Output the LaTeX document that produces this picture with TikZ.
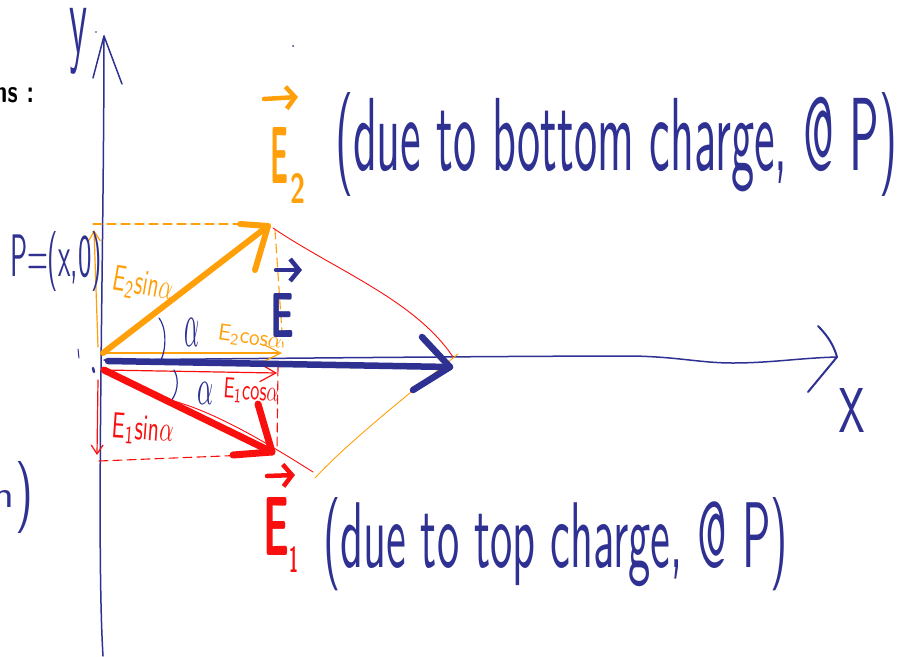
\documentclass[tikz,border=0pt]{standalone}
\usepackage{graphicx}
\usetikzlibrary{arrows.meta}
\definecolor{hwblue}{RGB}{46,49,146}
\definecolor{hworange}{RGB}{255,160,10}
\definecolor{hwred}{RGB}{250,15,15}
\newcommand{\hwtxt}[3]{\resizebox{#1}{#2}{#3}}
\newcommand{\hwtot}[3]{\resizebox*{#1}{#2}{#3}}
\begin{document}
\begin{tikzpicture}[x=1pt,y=-1pt,line cap=round,line join=round,
  lbl/.style={inner sep=0pt,outer sep=0pt},
  axis/.style={hwblue,line width=1.5pt},
  thickvec/.style={line width=6pt},
  thinvec/.style={line width=1.2pt},
  compline/.style={line width=1.1pt,dash pattern=on 9pt off 5pt},
  guide/.style={line width=0.9pt}]
\useasboundingbox (0,0) rectangle (907,656);
% key points
\coordinate (yb) at (103,656);
\coordinate (yt) at (104,36);
\coordinate (ya) at (93,78);
\coordinate (yc) at (122,84);
\coordinate (O) at (104,360);
\coordinate (xe) at (837,357);
\coordinate (xa) at (818,326);
\coordinate (xc) at (808,392);
\coordinate (E2s) at (103,353);
\coordinate (E2t) at (268,226);
\coordinate (E2a) at (240,224);
\coordinate (E2c) at (255,270);
\coordinate (Es) at (108,361);
\coordinate (Et) at (450,367);
\coordinate (Ea) at (422,337);
\coordinate (Ec) at (413,390);
\coordinate (E1s) at (104,370);
\coordinate (E1t) at (272,452);
\coordinate (E1a) at (233,455);
\coordinate (E1c) at (258,404);
% axes
\draw[axis] (yb) .. controls (96,540) and (104,250) .. (yt);
\draw[axis] (ya) -- (yt) -- (yc);
\draw[axis] (O) .. controls (400,357) and (560,356) .. (633,356)
   .. controls (680,357) and (700,363) .. (733,363) .. controls (770,363) and (800,358) .. (xe);
\draw[axis,line width=2pt] (xa) .. controls (828,336) and (834,346) .. (xe) -- (xc);
\node[lbl,hwblue] (ylab) at (79,41) {\hwtot{18pt}{66pt}{\sffamily y}};
\node[lbl,hwblue] (xlab) at (852,410) {\hwtot{25pt}{44pt}{\sffamily x}};
% small marks
\fill[hwblue] (293,46) circle (1pt);
\fill[hwblue] (96,32) circle (0.8pt);
\draw[hwblue,line width=1pt] (78,349) -- (79,358);
\draw[hwblue,line width=2.5pt] (93,368) -- (94,372);
% construction lines (orange)
\coordinate (o1) at (93,224);
\coordinate (o2) at (267,224);
\coordinate (o3) at (275,230);
\coordinate (o4) at (283,347);
\draw[hworange,compline] (o1) -- (o2);
\draw[hworange,compline] (o3) -- (o4);
\coordinate (ov1) at (98,347);
\coordinate (ov2) at (94,230);
\draw[hworange,thinvec,-{Straight Barb[length=10pt,width=12pt]}] (ov1) -- (ov2);
\coordinate (oc2) at (282,353);
\draw[hworange,thinvec,-{Straight Barb[length=16pt,width=16pt]}] (E2s) -- (oc2);
% construction lines (red)
\coordinate (r1) at (278,367);
\coordinate (r2) at (277,450);
\coordinate (r3) at (99,461);
\coordinate (r4) at (273,454);
\draw[hwred,compline] (r1) -- (r2);
\draw[hwred,compline] (r3) -- (r4);
\coordinate (rv1) at (98,380);
\coordinate (rv2) at (97,455);
\draw[hwred,thinvec,-{Straight Barb[length=9pt,width=12pt]}] (rv1) -- (rv2);
\coordinate (rc2) at (277,373);
\draw[hwred,thinvec,-{Straight Barb[length=16pt,width=18pt]}] (E1s) -- (rc2);
% parallelogram guides
\coordinate (g1) at (273,228);
\coordinate (g2) at (453,357);
\draw[hwred,guide] (g1) .. controls (335,270) and (415,300) .. (g2);
\coordinate (g3) at (458,354);
\coordinate (g4) at (315,478);
\draw[hworange,guide] (g3) .. controls (420,385) and (350,440) .. (g4);
\coordinate (g5) at (157,397);
\coordinate (g6) at (313,472);
\draw[hwred,guide] (g5) .. controls (200,405) and (250,432) .. (g6);
% angle marks
\coordinate (a1) at (159,318);
\coordinate (a2) at (161,360);
\draw[hwblue,line width=1.2pt] (a1) .. controls (167,328) and (166,350) .. (a2);
\coordinate (a3) at (174,370);
\coordinate (a4) at (170,402);
\draw[hwblue,line width=1.2pt] (a3) .. controls (180,380) and (177,395) .. (a4);
\node[lbl,hwblue] (alpha1) at (192,332) {\hwtot{15pt}{28pt}{$\alpha$}};
\node[lbl,hwblue] (alpha2) at (205,393) {\hwtot{16pt}{22pt}{$\alpha$}};
% main vectors
\draw[hworange,thickvec] (E2s) -- (E2t);
\draw[hworange,thickvec] (E2a) -- (E2t) -- (E2c);
\draw[hwred,thickvec,line width=7pt] (E1s) -- (E1t);
\draw[hwred,thickvec,line width=7pt] (E1a) -- (E1t) -- (E1c);
\draw[hwblue,thickvec,line width=6.5pt] (Es) -- (Et);
\draw[hwblue,thickvec,line width=6.5pt] (Ea) -- (Et) -- (Ec);
% component labels
\node[lbl,hworange,rotate=-10] (e2sin) at (143,285) {\hwtxt{60pt}{25pt}{\sffamily E\textsubscript{2}sin$\alpha$}};
\node[lbl,hworange,rotate=-8] (e2cos) at (250,338) {\hwtxt{64pt}{16pt}{\sffamily E\textsubscript{2}cos$\alpha$}};
\node[lbl,hwred,rotate=-4] (e1cos) at (251,392) {\hwtxt{55pt}{20pt}{\sffamily E\textsubscript{1}cos$\alpha$}};
\node[lbl,hwred,rotate=-4] (e1sin) at (143,430) {\hwtxt{61pt}{25pt}{\sffamily E\textsubscript{1}sin$\alpha$}};
% vector names
\node[lbl,hworange,anchor=north west] (E2lab) at (270,127) {\hwtxt{18pt}{56pt}{\sffamily\bfseries E}};
\node[lbl,hworange,anchor=north west] (E2sub) at (290,173) {\hwtxt{15pt}{30pt}{\sffamily\bfseries 2}};
\draw[hworange,line width=4.5pt,-{Straight Barb[length=9pt,width=22pt]}] ([xshift=-6pt,yshift=28pt]E2lab.north west) -- ([xshift=10pt,yshift=30pt]E2lab.north east);
\node[lbl,hwblue,anchor=north west] (Elab) at (270,293) {\hwtxt{24pt}{44pt}{\sffamily\bfseries E}};
\draw[hwblue,line width=4.5pt,-{Straight Barb[length=9pt,width=22pt]}] ([xshift=6pt,yshift=23pt]Elab.north west) -- ([xshift=8pt,yshift=23pt]Elab.north east);
\node[lbl,hwred,anchor=north west] (E1lab) at (263,497) {\hwtxt{26pt}{58pt}{\sffamily\bfseries E}};
\node[lbl,hwred,anchor=north west] (E1sub) at (289,546) {\hwtxt{9pt}{26pt}{\sffamily\bfseries 1}};
\draw[hwred,line width=4.5pt,-{Straight Barb[length=9pt,width=22pt]}] ([xshift=4pt,yshift=21pt]E1lab.north west) -- ([xshift=6pt,yshift=22pt]E1lab.north east);
% texts
\node[lbl,hwblue,anchor=base west] (toptext) at (335,170) {\hwtxt{562pt}{78pt}{\sffamily (due to bottom charge, @ P)}};
\node[lbl,hwblue,anchor=base west] (bottext) at (323,567) {\hwtxt{465pt}{70pt}{\sffamily (due to top charge, @ P)}};
\node[lbl,hwblue,anchor=base west] (Plab) at (10,276) {\hwtxt{92pt}{45pt}{\sffamily P=(x,0)}};
\node[lbl,anchor=base east] (ns) at (34,102) {\hwtxt{40pt}{15pt}{\sffamily\bfseries ns :}};
\node[lbl,hwblue,anchor=base east] (nlab) at (14,507) {\hwtxt{22pt}{17pt}{\sffamily n}};
\node[lbl,hwblue] (nparen) at (25,497) {\hwtot{18pt}{72pt}{\sffamily )}};
\end{tikzpicture}
\end{document}
